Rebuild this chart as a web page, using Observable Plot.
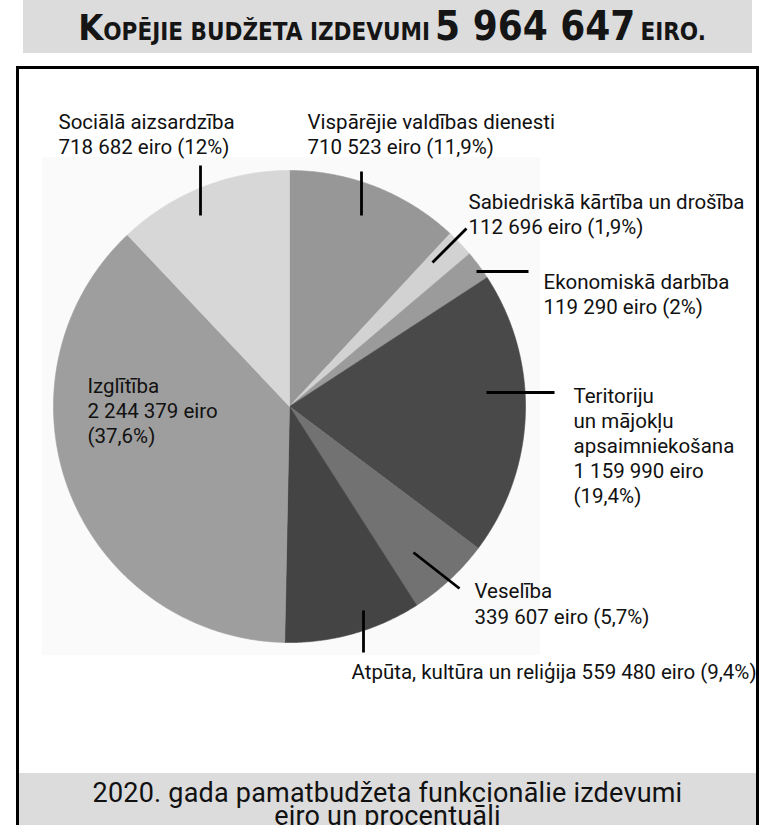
<!DOCTYPE html>
<html><head><meta charset="utf-8">
<script src="https://cdn.jsdelivr.net/npm/d3@7"></script>
<script src="https://cdn.jsdelivr.net/npm/@observablehq/plot@0.6"></script>
<style>
html,body{margin:0;padding:0;background:#fff;}
body{width:759px;height:825px;position:relative;overflow:hidden;font-family:Roboto,"Open Sans",sans-serif;color:#111;}
#title{position:absolute;left:23px;top:0;width:729px;height:53px;background:#dcdcdc;text-align:center;white-space:nowrap;
  font-family:"DejaVu Sans Condensed","Liberation Sans Narrow",sans-serif;font-weight:bold;color:#151515;line-height:52px;padding-left:9px;box-sizing:border-box;}
#title .k{font-size:36px;}
#title .sc{font-size:24px;}
#title .num{font-size:40px;font-weight:900;}
#bgpanel{position:absolute;left:42px;top:157px;width:498px;height:498px;background:#fafafa;}
#chart{position:absolute;left:0;top:0;}
#frame{position:absolute;left:16px;top:66px;width:743px;height:800px;border:3px solid #000;border-bottom:none;box-sizing:border-box;pointer-events:none;}
#caption{position:absolute;left:19px;top:773px;width:737px;height:52px;background:#dcdcdc;text-align:center;font-size:27px;letter-spacing:0.2px;line-height:23px;padding-top:9px;box-sizing:border-box;color:#111;}
</style>
</head><body>
<div id="title"><span class="k">K</span><span class="sc">OPĒJIE BUDŽETA IZDEVUMI</span> <span class="num">5 964 647</span> <span class="sc">EIRO.</span></div>
<div id="bgpanel"></div>
<div id="chart"></div>
<div id="frame"></div>
<div id="caption">2020. gada pamatbudžeta funkcionālie izdevumi<br>eiro un procentuāli</div>
<script>
// ---- data ----
const categories = [
  "Vispārējie valdības dienesti",
  "Sabiedriskā kārtība un drošība",
  "Ekonomiskā darbība",
  "Teritoriju un mājokļu apsaimniekošana",
  "Veselība",
  "Atpūta, kultūra un reliģija",
  "Izglītība",
  "Sociālā aizsardzība"
];
const values = [710523, 112696, 119290, 1159990, 339607, 559480, 2244379, 718682];
const percents = ["11,9", "1,9", "2", "19,4", "5,7", "9,4", "37,6", "12"];

// ---- styles ----
const sliceColors = ["#979797", "#d2d2d2", "#9b9b9b", "#494949", "#727272", "#444444", "#9e9e9e", "#d7d7d7"];

// ---- layout ----
const W = 759, H = 825;
const pieLayout = {cx: 289, cy: 406, r: 236};
// label placement: x, first baseline, line pitch, how to break lines
const labelLayout = [
  {x: 307, y: 128, pitch: 25, mode: "two"},
  {x: 468, y: 208, pitch: 25, mode: "two"},
  {x: 543, y: 288, pitch: 25, mode: "two"},
  {x: 573, y: 402, pitch: 25, mode: "five", breaks: [1, 3]},
  {x: 474, y: 597, pitch: 26, mode: "two"},
  {x: 351, y: 678, pitch: 25, mode: "one"},
  {x: 87,  y: 392, pitch: 25, mode: "three"},
  {x: 58,  y: 128, pitch: 25, mode: "two"}
];
const leaderLayout = [
  {x1: 361, y1: 171, x2: 361, y2: 215},
  {x1: 466, y1: 228, x2: 432, y2: 262},
  {x1: 528, y1: 271, x2: 476, y2: 271},
  {x1: 554, y1: 392, x2: 486, y2: 392},
  {x1: 459, y1: 588, x2: 413, y2: 552},
  {x1: 363, y1: 652, x2: 363, y2: 610},
  null,
  {x1: 200, y1: 165, x2: 200, y2: 215}
];

const fmt = v => d3.format(",")(v).replace(/,/g, " ");
const data = categories.map((name, i) => ({name, value: values[i], pct: percents[i], i}));

// pie slices as polygons
const arcs = d3.pie().sort(null).value(d => d.value)(data);
const slicePts = [];
for (const a of arcs) {
  const {cx, cy, r} = pieLayout;
  slicePts.push({name: a.data.name, x: cx, y: cy});
  const n = Math.max(2, Math.ceil((a.endAngle - a.startAngle) / (Math.PI / 360)));
  for (let k = 0; k <= n; k++) {
    const t = a.startAngle + (a.endAngle - a.startAngle) * k / n;
    slicePts.push({name: a.data.name, x: cx + r * Math.sin(t), y: cy - r * Math.cos(t)});
  }
  slicePts.push({name: a.data.name, x: cx, y: cy});
}

// label lines
const textLines = [];
data.forEach((d, i) => {
  const L = labelLayout[i];
  const vs = `${fmt(d.value)} eiro`, ps = `(${d.pct}%)`;
  let lines;
  if (L.mode === "one") lines = [`${d.name} ${vs} ${ps}`];
  else if (L.mode === "two") lines = [d.name, `${vs} ${ps}`];
  else if (L.mode === "three") lines = [d.name, vs, ps];
  else {
    const w = d.name.split(" ");
    const b = [0, ...L.breaks, w.length];
    lines = [];
    for (let k = 0; k < b.length - 1; k++) lines.push(w.slice(b[k], b[k + 1]).join(" "));
    lines.push(vs, ps);
  }
  lines.forEach((t, k) => textLines.push({text: t, x: L.x, y: L.y + k * L.pitch}));
});
const leaders = leaderLayout.filter(Boolean);

const chart = Plot.plot({
  width: W, height: H, margin: 0,
  x: {domain: [0, W], range: [0, W], axis: null},
  y: {domain: [0, H], range: [0, H], axis: null},
  color: {domain: categories, range: sliceColors},
  style: {background: "transparent", fontFamily: "Roboto, 'Open Sans', sans-serif"},
  marks: [
    Plot.line(slicePts, {x: "x", y: "y", z: "name", fill: "name", stroke: "name", strokeWidth: 0.6, curve: "linear"}),
    Plot.link(leaders, {x1: "x1", y1: "y1", x2: "x2", y2: "y2", stroke: "#000", strokeWidth: 2.8}),
    Plot.text(textLines, {x: "x", y: "y", text: "text", textAnchor: "start", lineAnchor: "bottom", fontSize: 20.5, fill: "#111"})
  ]
});
document.getElementById("chart").appendChild(chart);
</script>
</body></html>
